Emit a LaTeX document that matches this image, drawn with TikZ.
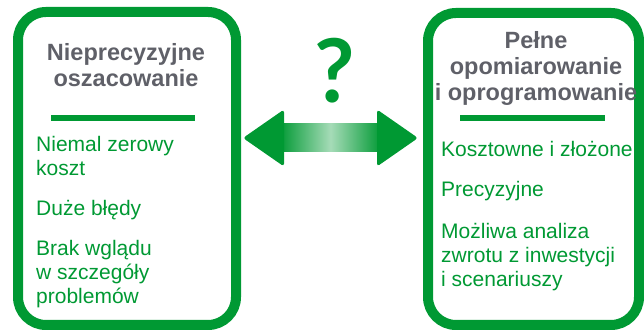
\documentclass[tikz,border=0pt]{standalone}
\usepackage{fontspec}
\setmainfont{Liberation Sans}
\newfontfamily\qfont{Lato}
\usetikzlibrary{positioning,calc}
\definecolor{kgreen}{RGB}{0,153,51}
\definecolor{kgray}{RGB}{95,96,104}

\begin{document}
\begin{tikzpicture}[
	x=1pt, y=1pt,
	panel/.style={rectangle, draw=kgreen, line width=10pt, rounded corners=28pt, minimum width=218pt, minimum height=313pt, inner sep=0pt},
	title/.style={font=\fontsize{23.5}{26}\selectfont\bfseries, text=kgray, align=center, anchor=base, inner sep=0pt},
	item/.style={font=\fontsize{21}{24}\selectfont, text=kgreen, align=left, anchor=base west, inner sep=0pt},
	bar/.style={draw=kgreen, line width=6pt},
	head/.style={fill=kgreen, rounded corners=3pt}
]
\useasboundingbox (0,0) rectangle (644,331);
\node[panel] (lbox) at (127,162.5) {};
\node[panel, minimum width=211pt, minimum height=312pt] (rbox) at (533.5,162) {};

% naglowki (base = ostatnia linia)
\node[title] (ltitle) at (126,244) {Nieprecyzyjne\\oszacowanie};
\node[title] (rtitle) at (536,230) {Pełne\\opomiarowanie\\i oprogramowanie};

\coordinate (lbarA) at (51,213);
\coordinate (lbarB) at (195,213);
\coordinate (rbarA) at (460,213);
\coordinate (rbarB) at (605,213);
\draw[bar] (lbarA) -- (lbarB);
\draw[bar] (rbarA) -- (rbarB);

% punkty
\node[item] (lcost) at (36,155) {Niemal zerowy\\koszt};
\node[item] (lerr) at (36,115) {Duże błędy};
\node[item] (lview) at (36,27) {Brak wglądu\\w szczegóły\\problemów};
\node[item] (rcost) at (441,174) {Kosztowne i złożone};
\node[item] (rprec) at (441,134) {Precyzyjne};
\node[item] (rroi) at (441,44) {Możliwa analiza\\zwrotu z inwestycji\\i scenariuszy};

% strzalka
\node[font=\qfont\bfseries\fontsize{88}{88}\selectfont, text=kgreen, anchor=base, inner sep=0pt] (qmark) at (335,228) {?};
\coordinate (ltip) at (243,193);
\coordinate (rtip) at (418,193);
\shade[left color=kgreen, right color=kgreen, middle color=kgreen!35] ($(ltip)+(36,-14)$) rectangle ($(rtip)+(-36,14)$);
\fill[head] (ltip) -- ($(ltip)+(41,28.5)$) -- ($(ltip)+(41,-28.5)$) -- cycle;
\fill[head] (rtip) -- ($(rtip)+(-41,28.5)$) -- ($(rtip)+(-41,-28.5)$) -- cycle;
\end{tikzpicture}
\end{document}
